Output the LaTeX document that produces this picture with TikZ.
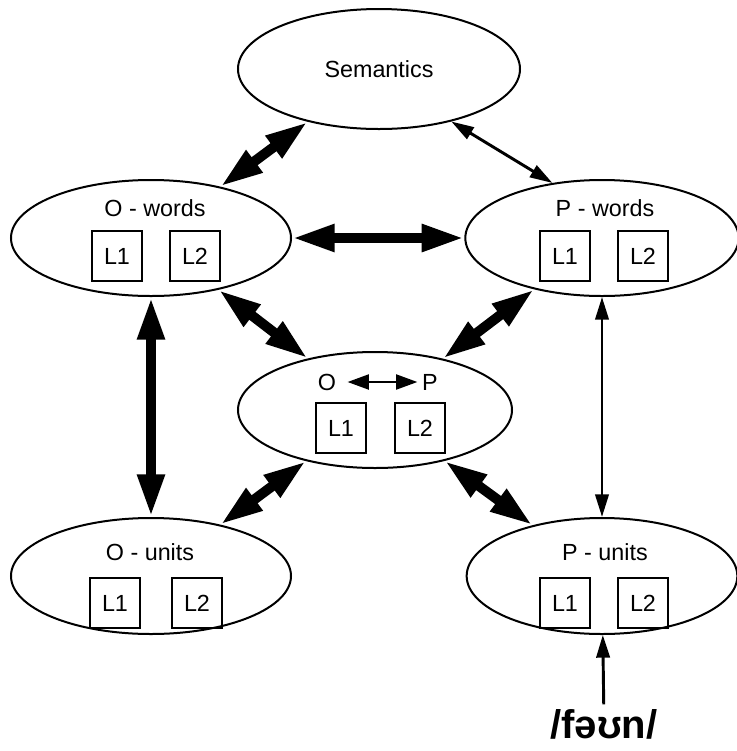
\documentclass[tikz,border=0pt]{standalone}
\usepackage{fontspec}
\setmainfont{Liberation Sans}
\usetikzlibrary{arrows.meta}
\usetikzlibrary{shapes.geometric}

\tikzset{
	bubble/.style={draw,ellipse,line width=1.5pt,inner sep=0pt,minimum width=210pt,minimum height=87pt},
	lbox/.style={draw,line width=1.5pt,inner sep=0pt,minimum size=37.5pt},
	bigarrow/.style={line width=7.5pt,{Triangle[length=32pt,width=19pt]}-{Triangle[length=32pt,width=19pt]}},
	thinarrow/.style={line width=2.2pt,{Triangle[length=17pt,width=10pt]}-{Triangle[length=17pt,width=10pt]}},
	midarrow/.style={line width=2.2pt,{Triangle[length=16pt,width=11pt]}-{Triangle[length=16pt,width=11pt]}}
}

\begin{document}
\begin{tikzpicture}[x=0.75pt,y=-0.75pt,font=\fontsize{17.5}{21}\selectfont]
			\useasboundingbox (0,0) rectangle (737,751);
			% ellipses
			\node[bubble,minimum width=211.5pt,minimum height=90pt] (sem) at (379,69) {Semantics};
			\node[bubble] (ow) at (151,238) {};
			\node[bubble,minimum width=205pt] (pw) at (602,238) {};
			\node[bubble,minimum width=205.5pt] (op) at (375,410) {};
			\node[bubble] (ou) at (151,576) {};
			\node[bubble,minimum width=203pt] (pu) at (602,576) {};
			% titles and boxes
			\node (owt) at (155,208) {O - words};
			\node[lbox] (owa) at (117,256) {L1};
			\node[lbox] (owb) at (195,256) {L2};
			\node (pwt) at (605,208) {P - words};
			\node[lbox] (pwa) at (565,256) {L1};
			\node[lbox] (pwb) at (643,256) {L2};
			\node (opo) at (327,382) {O};
			\node (opp) at (430,382) {P};
			\node[lbox] (opa) at (341,428) {L1};
			\node[lbox] (opb) at (420,428) {L2};
			\node (out) at (150,552) {O - units};
			\node[lbox] (oua) at (115,603) {L1};
			\node[lbox] (oub) at (197,603) {L2};
			\node (put) at (605,552) {P - units};
			\node[lbox] (pua) at (565,603) {L1};
			\node[lbox] (pub) at (643,603) {L2};
			\node[font=\fontsize{30}{36}\selectfont\bfseries] (phon) at (604,724) {/fəʊn/};
			% connections
			\draw[bigarrow] (sem) -- (ow);
			\draw[thinarrow] (sem.-36) -- (pw.132);
			\draw[bigarrow] (ow) -- (pw);
			\draw[bigarrow] (ow) -- (op);
			\draw[bigarrow] (pw) -- (op);
			\draw[bigarrow] (ow) -- (ou);
			\draw[thinarrow] (pw) -- (pu);
			\draw[bigarrow] (op) -- (ou);
			\draw[bigarrow] (op) -- (pu);
			\draw[midarrow,shorten <=5pt] (opo) -- (opp);
			\draw[line width=2.2pt,-{Triangle[length=17pt,width=10pt]}] (phon) -- (pu);
		\end{tikzpicture}
\end{document}
